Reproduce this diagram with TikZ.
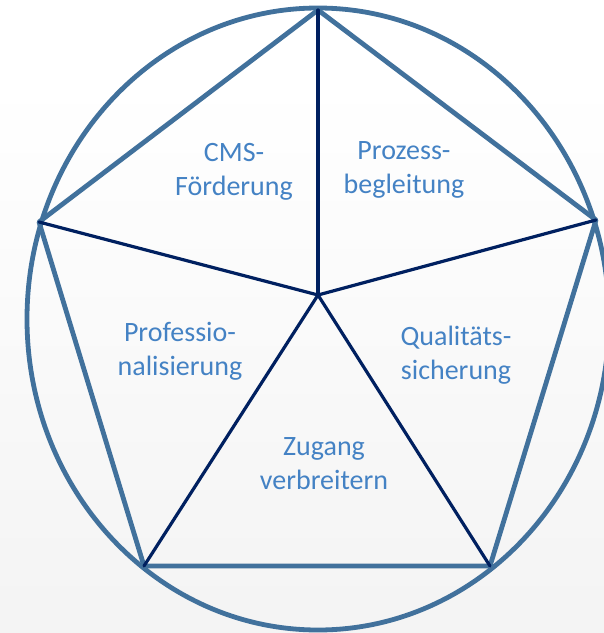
\documentclass[tikz,border=0pt]{standalone}
\usepackage{fontspec}
\setmainfont{Carlito}

\definecolor{rimblue}{RGB}{65,113,156}
\definecolor{spokenavy}{RGB}{0,32,96}
\definecolor{labelblue}{RGB}{68,130,196}

\tikzset{
	rim/.style={draw=rimblue, line width=4.8pt, line join=round},
	spoke/.style={draw=spokenavy, line width=3.2pt, line cap=round},
	field/.style={text=labelblue, font=\fontsize{28}{34}\selectfont, align=center, inner sep=0pt},
}

\begin{document}
\begin{tikzpicture}[x=1pt, y=-1pt]
	
	% page and soft backdrop
	\useasboundingbox (0,0) rectangle (604,633);
	\clip (0,0) rectangle (604,633);
	\fill [white] (0,0) rectangle (604,80);
	\shade [top color=white, bottom color=gray!9] (0,80) rectangle (604,633);
	
	% corners of the pentagon
	\coordinate (hub) at (318,295);
	\coordinate (top) at (318,10);
	\coordinate (right) at (596,220);
	\coordinate (lowright) at (490,566);
	\coordinate (lowleft) at (144,566);
	\coordinate (left) at (39,222);
	
	% outer ring
	\draw [rim] (318,319) ellipse [x radius=291pt, y radius=311pt];
	
	% pentagon
	\draw [rim] (top) -- (right) -- (lowright) -- (lowleft) -- (left) -- cycle;
	
	% spokes
	\foreach \corner in {top, right, lowright, lowleft, left}
		\draw [spoke] (hub) -- (\corner);
	
	% fields
	\node [field] (cms) at (234,172) {CMS-\\Förderung};
	\node [field] (prozess) at (404,170) {Prozess-\\begleitung};
	\node [field] (profi) at (180,351) {Professio-\\nalisierung};
	\node [field] (quali) at (456,355) {Qualitäts-\\sicherung};
	\node [field] (zugang) at (324,464) {Zugang\\verbreitern};
	
\end{tikzpicture}
\end{document}
